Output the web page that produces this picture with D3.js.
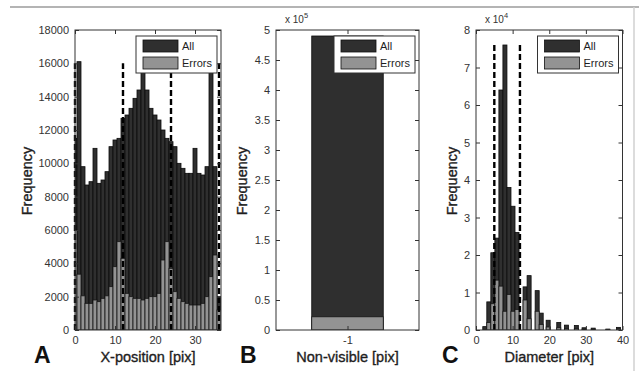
<!DOCTYPE html>
<html>
<head>
<meta charset="utf-8">
<script src="https://cdn.jsdelivr.net/npm/d3@7"></script>
<style>
  body { margin: 0; background: #fff; }
  svg { display: block; font-family: "Liberation Sans", Arial, sans-serif; }
</style>
</head>
<body>
<div id="chart"></div>
<script>

// ---- values ----

// panel A: x-position histogram
var xposBins = [0, 1, 2, 3, 4, 5, 6, 7, 8, 9, 10, 11, 12, 13, 14, 15, 16, 17, 18,
    19, 20, 21, 22, 23, 24, 25, 26, 27, 28, 29, 30, 31, 32, 33, 34, 35, 36];
var xposAll = [11500, 16100, 9800, 8700, 8900, 10900, 8800, 9000, 9500, 11000, 11400, 11500,
    12700, 12900, 13300, 13900, 14400, 16600, 14400, 13300, 12900, 12600, 12000, 11500,
    11300, 11000, 10000, 9700, 9400, 9400, 10900, 9400, 9300, 9800, 16000, 9800, 2000];
var xposErrors = [6000, 3350, 2050, 1600, 1600, 1800, 1700, 1900, 2050, 2600, 3800, 5300,
    4300, 2200, 2000, 1900, 1900, 1800, 1900, 2000, 2000, 2200, 4200, 5300,
    3700, 2300, 1900, 1700, 1600, 1500, 1500, 1500, 1600, 2000, 3200, 4500, 1200];
var xposCuts = [0, 12, 24, 36];
var xposCutTop = 16000;
var xposXTicks = [0, 10, 20, 30];
var xposYTicks = [0, 2000, 4000, 6000, 8000, 10000, 12000, 14000, 16000, 18000];

// panel B: non-visible
var nonvisBins = [-1];
var nonvisAll = [490000];
var nonvisErrors = [22000];
var nonvisXTicks = [-1];
var nonvisYTicks = [0, 50000, 100000, 150000, 200000, 250000, 300000, 350000, 400000, 450000, 500000];

// panel C: diameter histogram
var diamBins = [2.4, 3.5, 4.6, 5.7, 6.8, 7.9, 9.0, 10.1, 11.2, 13.4, 14.5, 16.7, 17.8,
    19.7, 22.6, 24.7, 27.4, 29.5, 32.0, 36.0, 38.9];
var diamAll = [900, 7500, 20600, 24500, 64000, 76000, 38000, 33000, 26000, 11500, 14500,
    10500, 4500, 2600, 2000, 1300, 1200, 600, 500, 250, 700];
var diamErrors = [0, 2000, 7000, 13300, 11700, 5000, 9500, 5000, 5500, 8000, 3000,
    5000, 1500, 800, 600, 400, 400, 200, 200, 100, 300];
var diamCuts = [5, 12];
var diamCutTop = 76000;
var diamXTicks = [0, 10, 20, 30, 40];
var diamYTicks = [0, 10000, 20000, 30000, 40000, 50000, 60000, 70000, 80000];

var legendLabels = ["All", "Errors"];
var panelLetters = ["A", "B", "C"];
var xLabels = ["X-position [pix]", "Non-visible [pix]", "Diameter [pix]"];
var yLabel = "Frequency";

// ---- layout ----
var width = 639, height = 371;
var plotTop = 30, plotBottom = 330;
var colAll = "#2f2f2f", colErr = "#939393", ink = "#1e1e1e";

var svg = d3.select("#chart")
    .append("svg")
    .attr("width", width)
    .attr("height", height);

// frame lines of the scanned figure
svg.append("line").attr("x1", 10).attr("x2", width).attr("y1", 7).attr("y2", 7)
    .attr("stroke", "#b4b4b4").attr("stroke-width", 2);
svg.append("line").attr("x1", 634).attr("x2", 634).attr("y1", 7).attr("y2", height)
    .attr("stroke", "#d0d0d0").attr("stroke-width", 1.5);

// plain ascii labels like matlab ("-1", not the unicode minus)
function plain(d) { return String(d); }

function drawPanel(p) {
    var x = d3.scaleLinear().domain(p.xDomain).range([p.left, p.right]);
    var y = d3.scaleLinear().domain(p.yDomain).range([plotBottom, plotTop]);
    var g = svg.append("g");

    var rows = p.bins.map(function (b, i) { return { bin: b, all: p.all[i], err: p.errors[i] }; });

    // clip so half bins at the edge get cut like in matlab
    g.append("clipPath").attr("id", "clip" + p.id)
        .append("rect")
        .attr("x", p.left).attr("y", plotTop)
        .attr("width", p.right - p.left).attr("height", plotBottom - plotTop);

    var bars = g.append("g").attr("clip-path", "url(#clip" + p.id + ")");

    bars.selectAll("rect.all")
        .data(rows)
        .enter()
        .append("rect")
        .attr("class", "all")
        .attr("x", function (d) { return x(d.bin - p.barWidth / 2); })
        .attr("width", function (d) { return x(d.bin + p.barWidth / 2) - x(d.bin - p.barWidth / 2); })
        .attr("y", function (d) { return y(d.all); })
        .attr("height", function (d) { return y(0) - y(d.all); })
        .attr("fill", colAll)
        .attr("stroke", "#0c0c0c")
        .attr("stroke-width", 0.8);

    bars.selectAll("rect.err")
        .data(rows.filter(function (d) { return d.err > 0; }))
        .enter()
        .append("rect")
        .attr("class", "err")
        .attr("x", function (d) { return x(d.bin - p.barWidth / 2); })
        .attr("width", function (d) { return x(d.bin + p.barWidth / 2) - x(d.bin - p.barWidth / 2); })
        .attr("y", function (d) { return y(d.err); })
        .attr("height", function (d) { return y(0) - y(d.err); })
        .attr("fill", colErr)
        .attr("stroke", "#151515")
        .attr("stroke-width", 0.8);

    // dashed cut lines
    if (p.cuts) {
        g.selectAll("line.cut")
            .data(p.cuts)
            .enter()
            .append("line")
            .attr("class", "cut")
            .attr("x1", function (d) { return x(d); })
            .attr("x2", function (d) { return x(d); })
            .attr("y1", y(0))
            .attr("y2", y(p.cutTop))
            .attr("stroke", "#000")
            .attr("stroke-width", 2.4)
            .attr("stroke-dasharray", "6,3");
    }

    // axes, matlab style: box with inward ticks on all four sides
    function styleAxis(sel) {
        sel.select(".domain").remove();
        sel.selectAll(".tick line").attr("stroke", "#333");
        sel.selectAll(".tick text").attr("fill", "#333").style("font-size", "11px")
            .style("font-family", "'Liberation Sans', Arial, sans-serif");
    }

    g.append("g").attr("transform", "translate(" + p.left + ",0)")
        .call(d3.axisLeft(y).tickValues(p.yTicks).tickFormat(p.yFormat)
            .tickSizeInner(-4).tickSizeOuter(0).tickPadding(6))
        .call(styleAxis);
    g.append("g").attr("transform", "translate(" + p.right + ",0)")
        .call(d3.axisRight(y).tickValues(p.yTicks).tickFormat("")
            .tickSizeInner(-4).tickSizeOuter(0))
        .call(styleAxis);
    g.append("g").attr("transform", "translate(0," + plotBottom + ")")
        .call(d3.axisBottom(x).tickValues(p.xTicks).tickFormat(plain)
            .tickSizeInner(-4).tickSizeOuter(0).tickPadding(6))
        .call(styleAxis);
    g.append("g").attr("transform", "translate(0," + plotTop + ")")
        .call(d3.axisTop(x).tickValues(p.xTicks).tickFormat("")
            .tickSizeInner(-4).tickSizeOuter(0))
        .call(styleAxis);

    g.append("rect")
        .attr("x", p.left).attr("y", plotTop)
        .attr("width", p.right - p.left).attr("height", plotBottom - plotTop)
        .attr("fill", "none").attr("stroke", "#333").attr("stroke-width", 1);

    // exponent label
    if (p.exponent) {
        var ex = g.append("text")
            .attr("x", p.left + 9).attr("y", plotTop - 7)
            .attr("fill", "#333").style("font-size", "10px")
            .text("x 10");
        ex.append("tspan").attr("dy", -5).style("font-size", "7.5px").text(p.exponent);
    }

    // legend
    var lw = 81, lh = 37;
    var lx = p.right - 4 - lw, ly = plotTop + 6;
    var leg = g.append("g").attr("transform", "translate(" + lx + "," + ly + ")");
    leg.append("rect").attr("width", lw).attr("height", lh)
        .attr("fill", "#fff").attr("stroke", "#333").attr("stroke-width", 1);
    legendLabels.forEach(function (lab, i) {
        leg.append("rect")
            .attr("x", 7).attr("y", 4 + i * 17)
            .attr("width", 35).attr("height", 12)
            .attr("fill", i == 0 ? colAll : colErr)
            .attr("stroke", "#111").attr("stroke-width", 0.8);
        leg.append("text")
            .attr("x", 46).attr("y", 10 + i * 17)
            .attr("dy", "0.35em")
            .attr("fill", ink).style("font-size", "11px")
            .text(lab);
    });

    // titles
    g.append("text")
        .attr("text-anchor", "middle")
        .attr("x", (p.left + p.right) / 2)
        .attr("y", 362)
        .attr("fill", ink).attr("stroke", ink).attr("stroke-width", 0.35)
        .style("font-size", "14.5px")
        .text(p.xLabel);

    g.append("text")
        .attr("text-anchor", "middle")
        .attr("transform", "translate(" + p.yLabelX + ",181) rotate(-90)")
        .attr("fill", ink).attr("stroke", ink).attr("stroke-width", 0.35)
        .style("font-size", "14.5px")
        .text(yLabel);

    g.append("text")
        .attr("x", p.letterX)
        .attr("y", 363)
        .attr("fill", "#111")
        .style("font-size", "23px").style("font-weight", "bold")
        .text(p.letter);
}

drawPanel({
    id: "A", left: 75, right: 221,
    xDomain: [0, 36.5], yDomain: [0, 18000],
    bins: xposBins, all: xposAll, errors: xposErrors, barWidth: 1,
    cuts: xposCuts, cutTop: xposCutTop,
    xTicks: xposXTicks, yTicks: xposYTicks, yFormat: plain,
    xLabel: xLabels[0], yLabelX: 32, letter: panelLetters[0], letterX: 34
});

drawPanel({
    id: "B", left: 276, right: 419,
    xDomain: [-1.8, -0.2], yDomain: [0, 500000],
    bins: nonvisBins, all: nonvisAll, errors: nonvisErrors, barWidth: 0.8,
    xTicks: nonvisXTicks, yTicks: nonvisYTicks,
    yFormat: function (d) { return String(d / 100000); }, exponent: "5",
    xLabel: xLabels[1], yLabelX: 247, letter: panelLetters[1], letterX: 240
});

drawPanel({
    id: "C", left: 476, right: 622.5,
    xDomain: [0, 40], yDomain: [0, 80000],
    bins: diamBins, all: diamAll, errors: diamErrors, barWidth: 1.1,
    cuts: diamCuts, cutTop: diamCutTop,
    xTicks: diamXTicks, yTicks: diamYTicks,
    yFormat: function (d) { return String(d / 10000); }, exponent: "4",
    xLabel: xLabels[2], yLabelX: 457, letter: panelLetters[2], letterX: 442
});

</script>
</body>
</html>
